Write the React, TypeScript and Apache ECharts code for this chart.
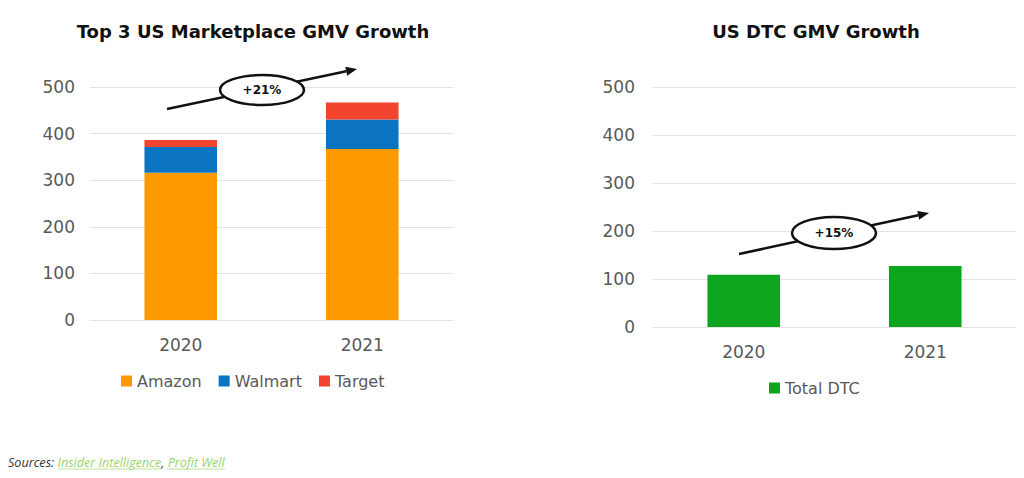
import React, { useEffect, useRef } from "react";
import * as echarts from "echarts";

const years = ["2020", "2021"];
const amazon = [316, 367];
const walmart = [55, 63];
const target = [15, 37];
const totalDtc = [109, 127];
const yTicks = [0, 100, 200, 300, 400, 500];
const growthLeft = "+21%";
const growthRight = "+15%";

const FONT = "'DejaVu Sans', sans-serif";
const AXIS_COLOR = "#595959";
const GRID_COLOR = "#e3e3e3";

function arrow(x1: number, y1: number, x2: number, y2: number) {
  const dx = x2 - x1;
  const dy = y2 - y1;
  const len = Math.sqrt(dx * dx + dy * dy);
  const ux = dx / len;
  const uy = dy / len;
  const px = -uy;
  const py = ux;
  const hl = 11;
  const hw = 4.5;
  const bx = x2 - ux * hl;
  const by = y2 - uy * hl;
  return [
    {
      type: "line",
      shape: { x1, y1, x2: bx, y2: by },
      style: { stroke: "#111", lineWidth: 2.5 },
    },
    {
      type: "polygon",
      shape: {
        points: [
          [x2, y2],
          [bx + px * hw, by + py * hw],
          [bx - px * hw, by - py * hw],
        ],
      },
      style: { fill: "#111" },
    },
  ];
}

function bubble(cx: number, cy: number, rx: number, ry: number, label: string) {
  return [
    {
      type: "ellipse",
      shape: { cx, cy, rx, ry },
      style: { fill: "#fff", stroke: "#111", lineWidth: 2.5 },
      z: 10,
    },
    {
      type: "text",
      x: cx,
      y: cy,
      style: {
        text: label,
        fill: "#111",
        font: `bold 12px ${FONT}`,
        align: "center",
        verticalAlign: "middle",
      },
      z: 11,
    },
  ];
}

export default function App() {
  const ref = useRef<HTMLDivElement>(null);
  useEffect(() => {
    if (!ref.current) return;
    const chart = echarts.init(ref.current, undefined, { renderer: "svg" });
    const yAxisCommon = {
      type: "value",
      min: 0,
      max: yTicks[yTicks.length - 1],
      interval: 100,
      axisLine: { show: false },
      axisTick: { show: false },
      axisLabel: { color: AXIS_COLOR, fontSize: 17, fontFamily: FONT },
      splitLine: { lineStyle: { color: GRID_COLOR, width: 1 } },
    };
    const xAxisCommon = {
      type: "category",
      data: years,
      axisLine: { lineStyle: { color: GRID_COLOR } },
      axisTick: { show: false },
      axisLabel: { color: AXIS_COLOR, fontSize: 17, fontFamily: FONT },
    };
    const titleStyle = { fontSize: 18, fontWeight: "bold", color: "#111", fontFamily: FONT };
    chart.setOption({
      animation: false,
      backgroundColor: "#ffffff",
      title: [
        {
          text: "Top 3 US Marketplace GMV Growth",
          left: 248,
          top: 17,
          textAlign: "center",
          textStyle: titleStyle,
        },
        {
          text: "US DTC GMV Growth",
          left: 811,
          top: 17,
          textAlign: "center",
          textStyle: titleStyle,
        },
      ],
      legend: [
        {
          data: ["Amazon", "Walmart", "Target"],
          left: 116,
          top: 368,
          icon: "rect",
          itemWidth: 11,
          itemHeight: 11,
          itemGap: 17,
          itemStyle: { borderWidth: 0 },
          textStyle: { color: AXIS_COLOR, fontSize: 16, fontFamily: FONT },
        },
        {
          data: ["Total DTC"],
          left: 764,
          top: 375,
          icon: "rect",
          itemWidth: 11,
          itemHeight: 11,
          itemStyle: { borderWidth: 0 },
          textStyle: { color: AXIS_COLOR, fontSize: 16, fontFamily: FONT },
        },
      ],
      grid: [
        { left: 90, right: 571, top: 87, bottom: 158 },
        { left: 653, right: 8, top: 87, bottom: 151 },
      ],
      xAxis: [
        { ...xAxisCommon, gridIndex: 0, axisLabel: { ...xAxisCommon.axisLabel, margin: 16 } },
        { ...xAxisCommon, gridIndex: 1, axisLabel: { ...xAxisCommon.axisLabel, margin: 16 } },
      ],
      yAxis: [
        { ...yAxisCommon, gridIndex: 0, axisLabel: { ...yAxisCommon.axisLabel, margin: 15 } },
        { ...yAxisCommon, gridIndex: 1, axisLabel: { ...yAxisCommon.axisLabel, margin: 18 } },
      ],
      series: [
        {
          name: "Amazon",
          type: "bar",
          stack: "m",
          data: amazon,
          barWidth: "40%",
          itemStyle: { color: "#FF9900" },
          xAxisIndex: 0,
          yAxisIndex: 0,
        },
        {
          name: "Walmart",
          type: "bar",
          stack: "m",
          data: walmart,
          barWidth: "40%",
          itemStyle: { color: "#0A74C2" },
          xAxisIndex: 0,
          yAxisIndex: 0,
        },
        {
          name: "Target",
          type: "bar",
          stack: "m",
          data: target,
          barWidth: "40%",
          itemStyle: { color: "#F2432F" },
          xAxisIndex: 0,
          yAxisIndex: 0,
        },
        {
          name: "Total DTC",
          type: "bar",
          data: totalDtc,
          barWidth: "40%",
          itemStyle: { color: "#0DA51E" },
          xAxisIndex: 1,
          yAxisIndex: 1,
        },
      ],
      graphic: [
        ...arrow(167, 109, 357, 69),
        ...bubble(262, 90, 42, 15, growthLeft),
        ...arrow(739, 254, 929, 213),
        ...bubble(834, 233, 42, 16, growthRight),
        {
          type: "text",
          x: 8,
          y: 462,
          style: {
            text: "{s|Sources: }{l|Insider Intelligence}{s|, }{l|Profit Well}",
            verticalAlign: "middle",
            rich: {
              s: { fontSize: 12.6, fontStyle: "italic", fill: "#333", fontFamily: "'Open Sans', sans-serif" },
              l: { fontSize: 12.6, fontStyle: "italic", fill: "#9ad36a", fontFamily: "'Open Sans', sans-serif" },
            },
          },
        },
        { type: "line", shape: { x1: 58, y1: 469, x2: 161, y2: 469 }, style: { stroke: "#b9e29a", lineWidth: 1 } },
        { type: "line", shape: { x1: 167, y1: 469, x2: 225, y2: 469 }, style: { stroke: "#b9e29a", lineWidth: 1 } },
      ],
    });
    return () => chart.dispose();
  }, []);
  return (
    <div
      ref={ref}
      style={{ position: "fixed", left: 0, top: 0, width: 1024, height: 478, background: "#fff" }}
    />
  );
}
